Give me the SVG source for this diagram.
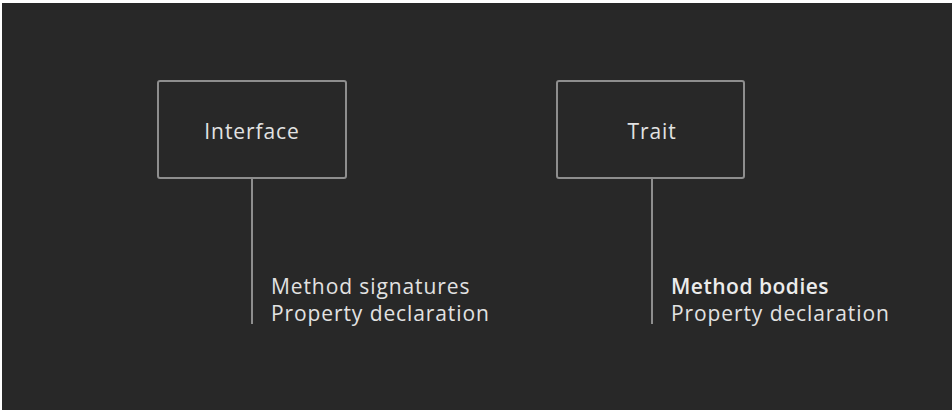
<svg xmlns="http://www.w3.org/2000/svg" width="952" height="410" viewBox="0 0 952 410">
<style>
.bg{fill:#282828}
.box{fill:none;stroke:#8e8e8e;stroke-width:2}
.conn{stroke:#8e8e8e;stroke-width:2}
text{font-family:"Open Sans","Liberation Sans",sans-serif;font-size:21px;fill:#e2e2e2;letter-spacing:0.9px}
.c{text-anchor:middle}
.b{font-weight:600;letter-spacing:0.5px;fill:#ececec}
</style>
<rect x="0" y="0" width="952" height="410" fill="#ffffff"/>
<rect class="bg" x="2" y="3" width="950" height="407"/>
<g id="connectors">
<line class="conn" x1="252" y1="178" x2="252" y2="324"/>
<line class="conn" x1="652" y1="178" x2="652" y2="324"/>
</g>
<g id="interface">
<rect class="box" x="158" y="81" width="188" height="97" rx="2"/>
<text class="c" x="252" y="139">Interface</text>
</g>
<g id="trait">
<rect class="box" x="557" y="81" width="187" height="97" rx="2"/>
<text class="c" x="652" y="139">Trait</text>
</g>
<g id="interface-notes">
<text x="271" y="294">Method signatures</text>
<text x="271" y="321">Property declaration</text>
</g>
<g id="trait-notes">
<text class="b" x="671" y="294">Method bodies</text>
<text x="671" y="321">Property declaration</text>
</g>
</svg>
